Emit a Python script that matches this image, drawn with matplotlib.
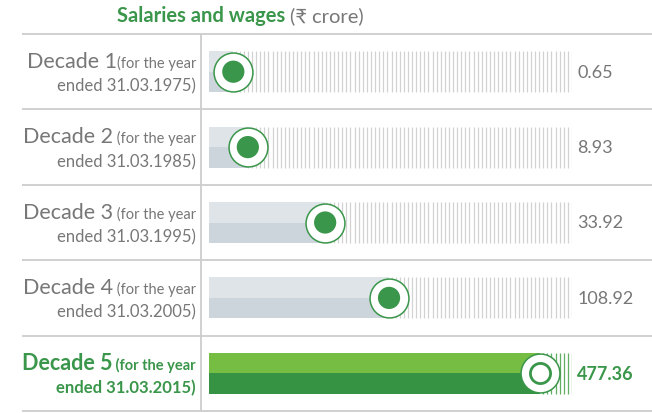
"""Salaries and wages by decade: gauge-style bar chart."""
import matplotlib
matplotlib.use("Agg")
import matplotlib.pyplot as plt  # noqa: E402
import matplotlib.transforms as mtrans  # noqa: E402
import numpy as np  # noqa: E402

decades = ["Decade 1", "Decade 2", "Decade 3", "Decade 4", "Decade 5"]
notes = ["(for the year", " (for the year", " (for the year", " (for the year", " (for the year"]
year_ended = ["ended 31.03.1975)", "ended 31.03.1985)", "ended 31.03.1995)",
              "ended 31.03.2005)", "ended 31.03.2015)"]
values = [0.65, 8.93, 33.92, 108.92, 477.36]
value_labels = ["0.65", "8.93", "33.92", "108.92", "477.36"]
# gauge fill level (share of the track) as drawn in the source graphic
gauge_level = [0.067, 0.107, 0.32, 0.496, 0.912]

GREEN = "#3a964a"
GREEN_DARK = "#359343"
GREEN_LIGHT = "#76bd43"
GREY_TXT = "#777777"
GREY_LIGHT = "#dee4e8"
GREY_DARK = "#ccd4dc"
HATCH = "#d2d2d2"
RULE = "#cdcdcd"
FONT = ["Lato", "DejaVu Sans"]

W, H = 652, 414
fig = plt.figure(figsize=(W / 100, H / 100), dpi=100)
ax = fig.add_axes([209 / W, 2 / H, 363 / W, 377 / H])
ax.set_xlim(0, 1)
ax.set_ylim(4.5, -0.5)
ax.axis("off")

rows = np.arange(len(decades))
half = 0.272
last = len(decades) - 1

# row separators and the vertical divider
ax.hlines(np.arange(-0.5, len(decades)), -0.515, 1.22, color=RULE, lw=1.3, clip_on=False)
ax.vlines(-0.022, -0.5, 4.5, color=RULE, lw=1.3, clip_on=False)

for i, (y, lvl) in enumerate(zip(rows, gauge_level)):
    top_c, bot_c = (GREEN_LIGHT, GREEN_DARK) if i == last else (GREY_LIGHT, GREY_DARK)
    ax.barh(y - half / 2, lvl, height=half, color=top_c, left=0)
    ax.barh(y + half / 2, lvl, height=half, color=bot_c, left=0)
    ticks = np.arange(1.0, lvl, -0.0113)
    ax.vlines(ticks, y - half, y + half, color="#5fae62" if i == last else HATCH, lw=0.9)
    # gauge knob
    ax.scatter([lvl], [y], s=28 ** 2, facecolor="white", edgecolor=GREEN, lw=1.1, zorder=5)
    if i == last:
        ax.scatter([lvl], [y], s=14.5 ** 2, facecolor="white", edgecolor=GREEN, lw=2.0, zorder=6)
    else:
        ax.scatter([lvl], [y], s=16 ** 2, facecolor=GREEN, edgecolor="none", zorder=6)
    # value label
    ax.text(1.014, y, value_labels[i], ha="left", va="center", fontsize=13,
            color=GREEN if i == last else GREY_TXT, family=FONT,
            fontweight="bold" if i == last else "normal")

fig.canvas.draw()
renderer = fig.canvas.get_renderer()
ytrans = ax.get_yaxis_transform()

for i, y in enumerate(rows):
    hl = i == last
    col = GREEN if hl else GREY_TXT
    wt = "bold" if hl else "normal"
    t1 = mtrans.offset_copy(ytrans, fig, x=0, y=4.7, units="dots")
    small = ax.text(-0.036, y, notes[i], ha="right", va="baseline", transform=t1,
                    fontsize=10.5, color=col, family=FONT, fontweight=wt)
    w = small.get_window_extent(renderer).width
    t1b = mtrans.offset_copy(ytrans, fig, x=-w, y=4.7, units="dots")
    ax.text(-0.036, y, decades[i], ha="right", va="baseline", transform=t1b,
            fontsize=15.5, color=col, family=FONT, fontweight=wt)
    t2 = mtrans.offset_copy(ytrans, fig, x=0, y=-19, units="dots")
    ax.text(-0.036, y, year_ended[i], ha="right", va="baseline", transform=t2,
            fontsize=12, color=col, family=FONT, fontweight=wt)

# title
title = fig.text(117 / W, 1 - 22 / H, "Salaries and wages", ha="left", va="baseline",
                 fontsize=14.5, fontweight="bold", color=GREEN, family=FONT)
tw = title.get_window_extent(renderer).width
fig.text((117 + tw + 5) / W, 1 - 22 / H, "(\u20b9 crore)", ha="left", va="baseline",
         fontsize=14.5, color=GREY_TXT, family=FONT)

fig.savefig("out.png", dpi=100)
